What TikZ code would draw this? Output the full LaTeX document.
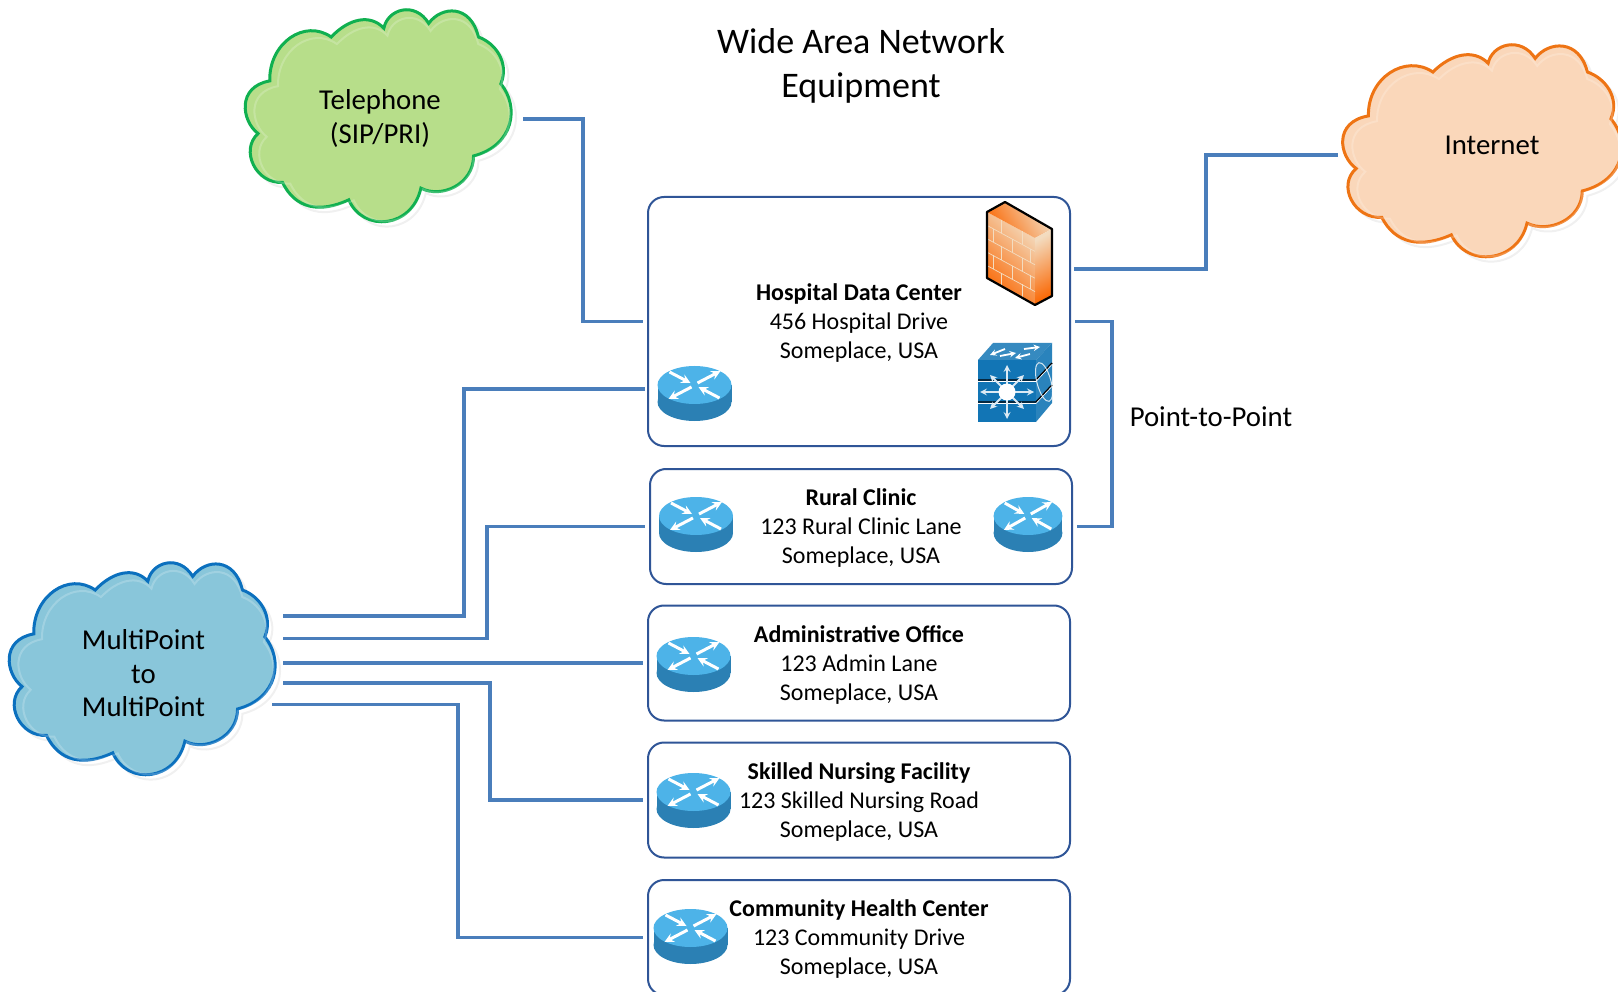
\documentclass[tikz,border=0pt]{standalone}
\usepackage{fontspec}
\setmainfont{Carlito}
\definecolor{linkblue}{HTML}{4A7EBB}
\definecolor{boxblue}{HTML}{2F5597}
\definecolor{routertop}{HTML}{4DB3E8}
\definecolor{routerside}{HTML}{2B80B4}
\definecolor{switchfront}{HTML}{1275B5}
\definecolor{wallorange}{HTML}{FA6A08}
\definecolor{wallpale}{HTML}{F3DCC0}
\definecolor{telfill}{HTML}{B7DE8A}
\definecolor{teledge}{HTML}{10B050}
\definecolor{mpfill}{HTML}{89C6DA}
\definecolor{mpedge}{HTML}{0B70BE}
\definecolor{inetfill}{HTML}{FAD7BA}
\definecolor{inetedge}{HTML}{EE7414}
\newcommand{\sitename}[1]{\rule{0pt}{20pt}\textbf{#1}}
\newcommand{\cloudpath}{(-111,-36) .. controls (-112,-75) and (-75,-100) .. (-48,-81)
  .. controls (-30,-100) and (-8,-105) .. (6,-90)
  .. controls (10,-110) and (38,-118) .. (52,-95)
  .. controls (65,-113) and (95,-115) .. (103,-81)
  .. controls (120,-75) and (135,-55) .. (126,-33)
  .. controls (145,-10) and (140,30) .. (98,41)
  .. controls (98,70) and (65,85) .. (44,74)
  .. controls (35,115) and (-15,120) .. (-30,86)
  .. controls (-60,100) and (-85,95) .. (-98,68)
  .. controls (-125,70) and (-142,35) .. (-123,18)
  .. controls (-140,5) and (-145,-30) .. (-111,-36) -- cycle}
\tikzset{
  sitebox/.style={draw=boxblue,line width=2pt,rounded corners=16pt,fill=white,
    minimum width=422pt,minimum height=115pt,align=center,inner sep=0pt,
    font=\fontsize{24}{29}\selectfont},
  cloudtext/.style={align=center,font=\fontsize{28.8}{33.5}\selectfont},
  wanlink/.style={draw=linkblue,line width=3.5pt,shorten >=4pt},
  pics/wancloud/.style 2 args={code={
    \draw[draw=black!6,line width=2pt,fill=white,shift={(5,5)}] \cloudpath;
    \draw[draw=#2,line width=3pt,fill=#1] \cloudpath;
    \draw[draw=white,opacity=.2,line width=2pt,shift={(4,4)},scale=.96] \cloudpath;
  }},
  pics/router/.style={code={
    \fill[routerside] (0,17) ellipse (37 and 19);
    \fill[routerside] (-37,0) rectangle (37,17);
    \fill[routertop] (0,0) ellipse (37 and 19);
    \foreach \xa/\ya/\xb/\yb in {-25/-13/-4/-2,25/13/4/2,3/-2/26/-14,-3/2/-26/14}
      \draw[white,line width=3pt,-stealth] (\xa,\ya) -- (\xb,\yb);
  }}
}
\begin{document}
\begin{tikzpicture}[x=1pt,y=-1pt]
  \useasboundingbox (0,0) rectangle (1618,992);

  % Title
  \node[align=center,font=\fontsize{36}{44}\selectfont] (title) at (861,66) {Wide Area Network\\Equipment};

  % Clouds
  \pic[scale=.975] (telcloud) at (378,116) {wancloud={telfill}{teledge}};
  \pic[scale=.975] (mpcloud) at (142,669) {wancloud={mpfill}{mpedge}};
  \pic[xscale=1.023,yscale=.975] (inetcloud) at (1482,151) {wancloud={inetfill}{inetedge}};
  \node[cloudtext] (tel) at (380,118.5) {Telephone\\(SIP/PRI)};
  \node[cloudtext] (mp) at (143.5,673.5) {MultiPoint\\to\\MultiPoint};
  \node[cloudtext] (inet) at (1492,145.5) {Internet};

  % Sites
  \node[sitebox,minimum height=249pt] (hosp) at (859,321.5) {\sitename{Hospital Data Center}\\456 Hospital Drive\\Someplace, USA};
  \node[sitebox] (rural) at (861,526.5) {\sitename{Rural Clinic}\\123 Rural Clinic Lane\\Someplace, USA};
  \node[sitebox] (admin) at (859,663) {\sitename{Administrative Office}\\123 Admin Lane\\Someplace, USA};
  \node[sitebox] (skilled) at (859,800) {\sitename{Skilled Nursing Facility}\\123 Skilled Nursing Road\\Someplace, USA};
  \node[sitebox] (comm) at (859,937.5) {\sitename{Community Health Center}\\123 Community Drive\\Someplace, USA};

  % Routers
  \pic (hosprouter) at (694.5,385) {router};
  \pic (ruralrouter) at (696,516) {router};
  \pic[xscale=.93] (ruralrouterb) at (1028,516) {router};
  \pic (adminrouter) at (693.5,656) {router};
  \pic (skilledrouter) at (693.5,792) {router};
  \pic (commrouter) at (690.5,928) {router};

  % Firewall
  \shade[bottom color=wallorange,middle color=wallorange,top color=wallpale,shading angle=-45] (987,212) -- (1035,238) -- (1035,305) -- (987,278) -- cycle;
  \shade[top color=wallpale,bottom color=wallorange,shading angle=-60] (987,212) -- (1005,202) -- (1052,229) -- (1035,238) -- cycle;
  \shade[top color=wallpale,middle color=wallorange,bottom color=wallorange,shading angle=30] (1035,238) -- (1052,229) -- (1052,296) -- (1035,305) -- cycle;
  \foreach \k in {1,...,4}
    \draw[wallpale,line width=.7pt] (987,212+\k*13.4) -- (1035,238+\k*13.4);
  \foreach \x/\k in {1001/0,1022/0,993/1,1012/1,1030/1,1001/2,1022/2,993/3,1012/3,1030/3,1001/4,1022/4}
    \draw[wallpale,line width=.7pt] (\x,{212+0.54*(\x-987)+\k*13.4}) -- ++(0,13.4);
  \draw[line width=2.2pt,line join=round] (987,212) -- (1005,202) -- (1052,229) -- (1052,296) -- (1035,305) -- (987,278) -- cycle;

  % Switch
  \fill[switchfront] (978,360) rectangle (1036,422);
  \fill[switchfront!85!white] (978,360) -- (993,343) -- (1052,343) -- (1036,360) -- cycle;
  \fill[switchfront!90!white] (1036,360) -- (1052,343) -- (1052,403) -- (1036,422) -- cycle;
  \foreach \y in {380,402} {
    \draw[black,line width=1.4pt] (978,\y) -- (1036,\y) -- (1052,\y-17);
    \draw[white,line width=.6pt] (978,\y+1.5) -- (1036,\y+1.5) -- (1052,\y-15.5);
  }
  \foreach \a/\r in {0/27,45/24,90/27,135/24,180/27,225/24,270/27,315/24}
    \draw[white!85!switchfront,line width=2pt,-stealth] (1007,392) -- ++(\a:\r);
  \fill[white] (1007,392) circle (8.5);
  \foreach \xa/\ya/\xb/\yb in {1005/349/990/355,1024/349/1040/347,1000/356/1016/353,1030/354/1015/358}
    \draw[white,line width=1.8pt,-stealth] (\xa,\ya) -- (\xb,\yb);
  \draw[white,opacity=.8,line width=1pt,rotate around={15:(1044,382)}] (1044,382) ellipse (7 and 20);

  % Links to Telephone and Internet
  \coordinate (telport) at (523,119);
  \coordinate (inetport) at (1342,155);
  \coordinate (hospwan) at (1074,269);
  \coordinate (hosprouterport) at (649,389);
  \draw[wanlink] (telport) -- ++(60,0) |- (hosp.west);
  \draw[wanlink] (hospwan) -- ++(132,0) |- (inetport);

  % Point-to-point link
  \draw[wanlink,shorten <=4pt] (hosp.east) -- ++(41,0) |- (rural.east);
  \node[font=\fontsize{28.8}{30}\selectfont] (ptp) at (1211,417) {Point-to-Point};

  % Multipoint links
  \coordinate (mpa) at (283,616);
  \coordinate (mpb) at (283,638.5);
  \coordinate (mpc) at (283,663);
  \coordinate (mpd) at (283,683);
  \coordinate (mpe) at (272,704.5);
  \draw[wanlink] (mpa) -- ++(181,0) |- (hosprouterport);
  \draw[wanlink] (mpb) -- ++(204,0) |- (rural.west);
  \draw[wanlink] (mpc) -- (admin.west);
  \draw[wanlink] (mpd) -- ++(207,0) |- (skilled.west);
  \draw[wanlink] (mpe) -- ++(186,0) |- (comm.west);
\end{tikzpicture}
\end{document}
